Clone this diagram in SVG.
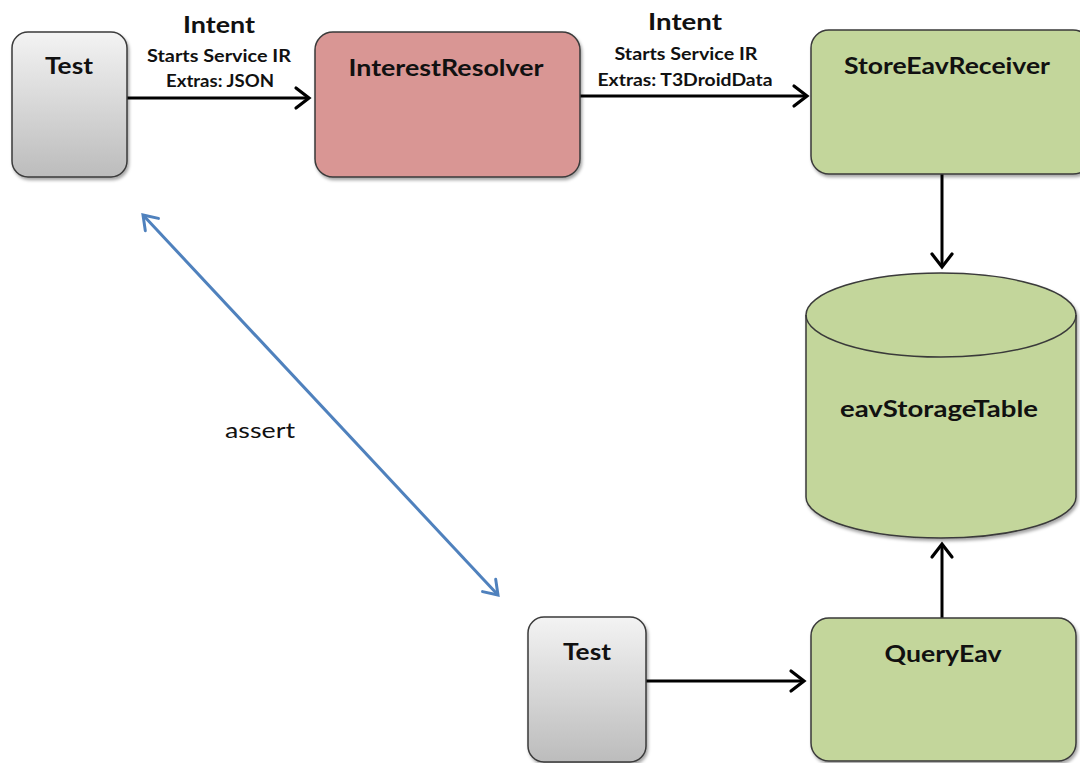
<svg xmlns="http://www.w3.org/2000/svg" width="1080" height="763" viewBox="0 0 1080 763">
  <defs>
    <linearGradient id="greyFill" x1="0" y1="0" x2="0" y2="1">
      <stop offset="0" stop-color="#f3f3f3"/>
      <stop offset="1" stop-color="#bcbcbc"/>
    </linearGradient>
    <filter id="shadow" x="-10%" y="-10%" width="120%" height="125%">
      <feDropShadow dx="1.5" dy="2.5" stdDeviation="1.5" flood-color="#000" flood-opacity="0.35"/>
    </filter>
    <marker id="arrowBlack" markerUnits="userSpaceOnUse" viewBox="-18 -14 22 28" markerWidth="22" markerHeight="28" refX="0" refY="0" orient="auto-start-reverse">
      <path d="M-13,-10 L0,0 L-13,10" fill="none" stroke="#000" stroke-width="3.2" stroke-linecap="round" stroke-linejoin="miter"/>
    </marker>
    <marker id="arrowBlue" markerUnits="userSpaceOnUse" viewBox="-18 -14 22 28" markerWidth="22" markerHeight="28" refX="0" refY="0" orient="auto-start-reverse">
      <path d="M-13,-9 L0,0 L-13,9" fill="none" stroke="#4f81bd" stroke-width="3" stroke-linecap="round"/>
    </marker>
  </defs>
  <style>
    .box { stroke: #3a3a3a; stroke-width: 1.5; filter: url(#shadow); }
    .grey { fill: url(#greyFill); }
    .pink { fill: #d99694; }
    .green { fill: #c3d69b; }
    .label { font-family: Lato, "Open Sans", "Liberation Sans", sans-serif; font-weight: bold; font-size: 22px; fill: #111; text-anchor: middle; }
    .intent { font-family: Lato, "Open Sans", "Liberation Sans", sans-serif; font-weight: bold; font-size: 23px; fill: #111; text-anchor: middle; }
    .small { font-family: Lato, "Open Sans", "Liberation Sans", sans-serif; font-weight: bold; font-size: 16.5px; fill: #111; text-anchor: middle; }
    .note { font-family: Lato, "Open Sans", "Liberation Sans", sans-serif; font-size: 22px; fill: #111; text-anchor: middle; }
    .link { fill: none; stroke: #000; stroke-width: 3; marker-end: url(#arrowBlack); }
    .assert { fill: none; stroke: #4f81bd; stroke-width: 3; marker-start: url(#arrowBlue); marker-end: url(#arrowBlue); }
  </style>

  <rect width="1080" height="763" fill="#fff"/>

  <!-- connectors -->
  <g id="connectors">
    <line class="link" x1="127" y1="98" x2="309" y2="98"/>
    <line class="link" x1="580" y1="96" x2="807" y2="96"/>
    <line class="link" x1="942" y1="174" x2="942" y2="267"/>
    <line class="link" x1="942" y1="618" x2="942" y2="544"/>
    <line class="link" x1="646" y1="681" x2="804" y2="681"/>
    <line class="assert" x1="143" y1="215" x2="498" y2="595"/>
    <text class="intent" x="219" y="33" textLength="72" lengthAdjust="spacingAndGlyphs">Intent</text>
    <text class="small" x="219" y="62" textLength="144" lengthAdjust="spacingAndGlyphs">Starts Service IR</text>
    <text class="small" x="220" y="87" textLength="108" lengthAdjust="spacingAndGlyphs">Extras: JSON</text>
    <text class="intent" x="685" y="30" textLength="74" lengthAdjust="spacingAndGlyphs">Intent</text>
    <text class="small" x="686" y="60" textLength="143" lengthAdjust="spacingAndGlyphs">Starts Service IR</text>
    <text class="small" x="685" y="86" textLength="175" lengthAdjust="spacingAndGlyphs">Extras: T3DroidData</text>
    <text class="note" x="260" y="438" textLength="70" lengthAdjust="spacingAndGlyphs">assert</text>
  </g>

  <!-- nodes -->
  <g id="test-top">
    <rect class="box grey" x="12" y="32" width="115" height="145" rx="16"/>
    <text class="label" x="69" y="74" textLength="48" lengthAdjust="spacingAndGlyphs">Test</text>
  </g>

  <g id="interest-resolver">
    <rect class="box pink" x="315" y="32" width="265" height="145" rx="18"/>
    <text class="label" x="446" y="76" textLength="195" lengthAdjust="spacingAndGlyphs">InterestResolver</text>
  </g>

  <g id="store-eav-receiver">
    <rect class="box green" x="811" y="30" width="280" height="144" rx="18"/>
    <text class="label" x="947" y="74" textLength="206" lengthAdjust="spacingAndGlyphs">StoreEavReceiver</text>
  </g>

  <g id="eav-storage-table">
    <path class="box green" d="M806,315 L806,497 A135,41 0 0 0 1076,497 L1076,315 A135,42 0 0 0 806,315 Z"/>
    <path d="M806,315 A135,42 0 0 0 1076,315" fill="none" stroke="#3a3a3a" stroke-width="1.5"/>
    <text class="label" x="939" y="417" textLength="198" lengthAdjust="spacingAndGlyphs">eavStorageTable</text>
  </g>

  <g id="test-bottom">
    <rect class="box grey" x="528" y="617" width="118" height="145" rx="16"/>
    <text class="label" x="587" y="660" textLength="48" lengthAdjust="spacingAndGlyphs">Test</text>
  </g>

  <g id="query-eav">
    <rect class="box green" x="811" y="618" width="265" height="143" rx="18"/>
    <text class="label" x="943" y="662" textLength="117" lengthAdjust="spacingAndGlyphs">QueryEav</text>
  </g>
</svg>
